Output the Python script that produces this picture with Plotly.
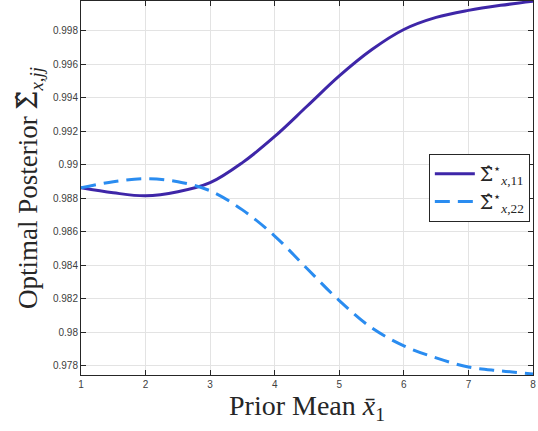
import plotly.graph_objects as go

x_vals = [1, 1.5, 2, 2.5, 3, 3.5, 4, 4.5, 5, 5.5, 6, 6.5, 7, 7.5, 8]
sigma_11 = [0.98862, 0.98832, 0.98814, 0.98838, 0.98892, 0.99012, 0.99168, 0.99348,
            0.99529, 0.99685, 0.99806, 0.99878, 0.99920, 0.99950, 0.99974]
sigma_22 = [0.98862, 0.98898, 0.98916, 0.98898, 0.98844, 0.98730, 0.98574, 0.98380,
            0.98189, 0.98027, 0.97919, 0.97847, 0.97793, 0.97770, 0.97751]
x_ticks = [1, 2, 3, 4, 5, 6, 7, 8]
y_ticks = [0.978, 0.98, 0.982, 0.984, 0.986, 0.988, 0.99, 0.992, 0.994, 0.996, 0.998]
y_tick_text = ["0.978", "0.98", "0.982", "0.984", "0.986", "0.988", "0.99", "0.992", "0.994", "0.996", "0.998"]

SIG = "<span style='font-family:DejaVu Serif'>Σ̂</span>"

fig = go.Figure()
fig.add_trace(go.Scatter(x=x_vals, y=sigma_11, mode="lines",
                         line=dict(color="rgb(62,38,168)", width=3, shape="spline"),
                         name=SIG + "<sup>⋆</sup><sub><i>x</i>,11</sub>"))
fig.add_trace(go.Scatter(x=x_vals, y=sigma_22, mode="lines",
                         line=dict(color="rgb(42,140,240)", width=3, dash="15px,8px", shape="spline"),
                         name=SIG + "<sup>⋆</sup><sub><i>x</i>,22</sub>"))

axis_common = dict(showline=True, linecolor="#262626", linewidth=1, mirror="ticks",
                   ticks="inside", ticklen=5, tickcolor="#262626",
                   showgrid=True, gridcolor="#e3e3e3", gridwidth=1, zeroline=False,
                   tickfont=dict(family="Liberation Sans, Arial", size=10, color="#404040"))

fig.update_layout(
    width=538, height=431,
    margin=dict(l=81, r=5, t=1, b=56),
    paper_bgcolor="white", plot_bgcolor="white",
    xaxis=dict(range=[1, 8], tickvals=x_ticks, title=dict(
        text="Prior Mean <i>x̄</i><sub>1</sub>", standoff=4,
        font=dict(family="Liberation Serif, DejaVu Serif", size=28, color="#262626")),
        **axis_common),
    yaxis=dict(range=[0.97745, 0.99976], tickvals=y_ticks, ticktext=y_tick_text, title=dict(
        text="Optimal Posterior " + SIG + "<sub><i>x</i>,<i>jj</i></sub>", standoff=7,
        font=dict(family="Liberation Serif, DejaVu Serif", size=27, color="#262626")),
        **axis_common),
    legend=dict(x=0.993, y=0.5, xanchor="right", yanchor="middle",
                bgcolor="white", bordercolor="#262626", borderwidth=1,
                font=dict(family="Liberation Serif, DejaVu Serif", size=19, color="#262626"),
                tracegroupgap=0, itemwidth=40),
    showlegend=True,
)

fig.write_html("out.html")
